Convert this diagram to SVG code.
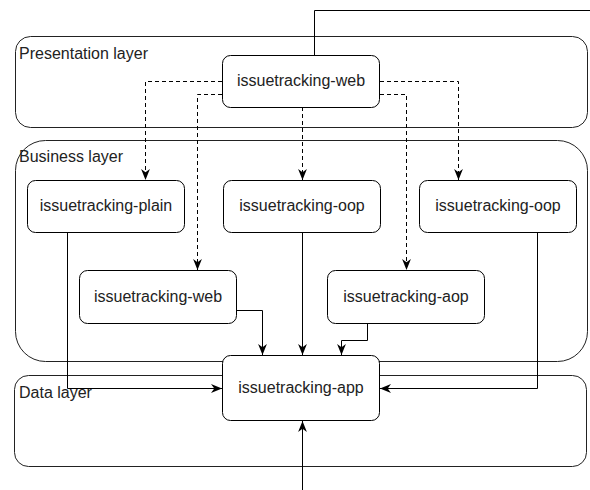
<svg xmlns="http://www.w3.org/2000/svg" width="590" height="490" viewBox="0 0 590 490">
<defs>
<style>
.layer{fill:#fff;stroke:#222;stroke-width:1}
.node rect{fill:#fff;stroke:#000;stroke-width:1}
.lbl{font-family:"Liberation Sans",Arial,sans-serif;font-size:16px;fill:#222}
.ntxt{font-family:"Liberation Sans",Arial,sans-serif;font-size:16px;fill:#222;text-anchor:middle}
.c{fill:none;stroke:#000;stroke-width:1}
.d{stroke-dasharray:4 3}
.a{marker-end:url(#arr)}
</style>
<marker id="arr" markerUnits="userSpaceOnUse" viewBox="0 0 10 10" markerWidth="11" markerHeight="11" refX="10" refY="5" orient="auto">
<path d="M0,1 L10,5 L0,9 L3,5 z" fill="#000"/>
</marker>
</defs>
<g id="layers">
<g id="presentation-layer">
<rect class="layer" x="15.5" y="36.5" width="572" height="91" rx="15"/>
<text class="lbl" x="19" y="59">Presentation layer</text>
</g>
<g id="business-layer">
<rect class="layer" x="15.5" y="140.5" width="572" height="221" rx="30"/>
<text class="lbl" x="19" y="162">Business layer</text>
</g>
<g id="data-layer">
<rect class="layer" x="14.5" y="375.5" width="572" height="91" rx="14"/>
<text class="lbl" x="19" y="398">Data layer</text>
</g>
</g>
<g id="connectors">
<path class="c" d="M314.5,55 V10.5 H590"/>
<path class="c d a" d="M222,81.5 H145.5 V180"/>
<path class="c d a" d="M222,94.5 H197.5 V270"/>
<path class="c d a" d="M302.5,107 V180"/>
<path class="c d a" d="M380,81.5 H458.5 V180"/>
<path class="c d a" d="M380,94.5 H406.5 V270"/>
<path class="c a" d="M67.5,232 V388.5 H222"/>
<path class="c a" d="M236,310.5 H262.5 V355"/>
<path class="c a" d="M302.5,232 V355"/>
<path class="c a" d="M367.5,323 V340.5 H341.5 V355"/>
<path class="c a" d="M537.5,232 V388.5 H380"/>
<path class="c a" d="M302.5,490 V421"/>
</g>
<g id="web-top" class="node">
<rect x="222.5" y="55.5" width="157" height="52" rx="8"/>
<text class="ntxt" x="301" y="86">issuetracking-web</text>
</g>
<g id="plain" class="node">
<rect x="27.5" y="180.5" width="157" height="52" rx="8"/>
<text class="ntxt" x="106" y="211">issuetracking-plain</text>
</g>
<g id="oop-mid" class="node">
<rect x="223.5" y="180.5" width="157" height="52" rx="8"/>
<text class="ntxt" x="302" y="211">issuetracking-oop</text>
</g>
<g id="oop-right" class="node">
<rect x="419.5" y="180.5" width="157" height="52" rx="8"/>
<text class="ntxt" x="498" y="211">issuetracking-oop</text>
</g>
<g id="web-business" class="node">
<rect x="79.5" y="270.5" width="157" height="53" rx="8"/>
<text class="ntxt" x="158" y="302">issuetracking-web</text>
</g>
<g id="aop" class="node">
<rect x="327.5" y="270.5" width="157" height="53" rx="8"/>
<text class="ntxt" x="406" y="302">issuetracking-aop</text>
</g>
<g id="app" class="node">
<rect x="222.5" y="355.5" width="157" height="65" rx="8"/>
<text class="ntxt" x="301" y="393">issuetracking-app</text>
</g>
</svg>
